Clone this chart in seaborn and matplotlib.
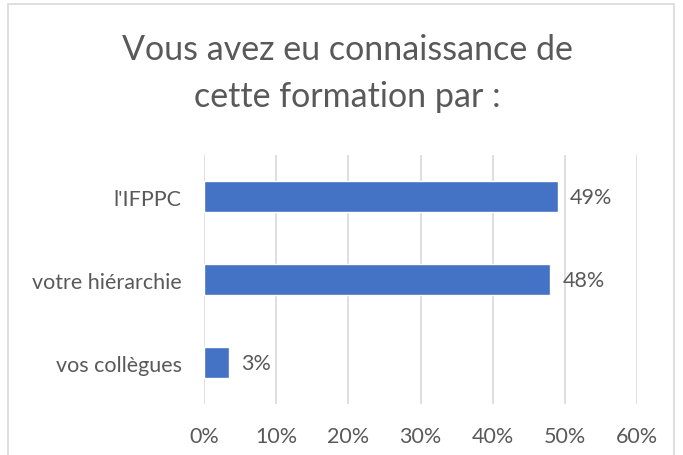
import matplotlib.pyplot as plt
import seaborn as sns
import pandas as pd
from matplotlib.patches import Rectangle

categories = ["l'IFPPC", "votre hiérarchie", "vos collègues"]
values = [0.49, 0.48, 0.034]
value_labels = ["49%", "48%", "3%"]
ticks = [0, 0.1, 0.2, 0.3, 0.4, 0.5, 0.6]
tick_labels = ["0%", "10%", "20%", "30%", "40%", "50%", "60%"]

text_col = "#595959"
bar_col = "#4472C4"

sns.set_theme(style="white")
plt.rcParams['font.family'] = ['Lato', 'DejaVu Sans']

df = pd.DataFrame({"cat": categories, "val": values})

fig = plt.figure(figsize=(6.83, 4.56), dpi=100)
ax = fig.add_axes([0.2987, 0.1118, 0.634, 0.546])

sns.barplot(data=df, x="val", y="cat", order=categories, color=bar_col,
            width=0.37, saturation=1, ax=ax)

ax.set_xlim(0, 0.6)
ax.set_xticks(ticks)
ax.set_xticklabels(tick_labels)
ax.xaxis.grid(True, color="#d9d9d9", linewidth=1.2)
ax.set_axisbelow(True)
ax.tick_params(axis="x", length=0, pad=16, labelsize=15.5, labelcolor=text_col)
ax.tick_params(axis="y", length=0, pad=16, labelsize=15.5, labelcolor=text_col)
ax.set_xlabel("")
ax.set_ylabel("")
for s in ax.spines.values():
    s.set_visible(False)

for i, (v, lab) in enumerate(zip(values, value_labels)):
    ax.annotate(lab, (v, i), xytext=(9, 0), textcoords="offset points",
                ha="left", va="center", fontsize=15.5, color=text_col)

fig.text(0.508, 0.868, "Vous avez eu connaissance de", ha="center", va="baseline",
         fontsize=24.5, color=text_col)
fig.text(0.508, 0.765, "cette formation par :", ha="center", va="baseline",
         fontsize=24.5, color=text_col)

fig.patches.append(Rectangle((8 / 683, -0.05), 666 / 683, 1.04, transform=fig.transFigure,
                             fill=False, edgecolor="#d9d9d9", linewidth=1.2))

fig.savefig("out.png", dpi=100)
